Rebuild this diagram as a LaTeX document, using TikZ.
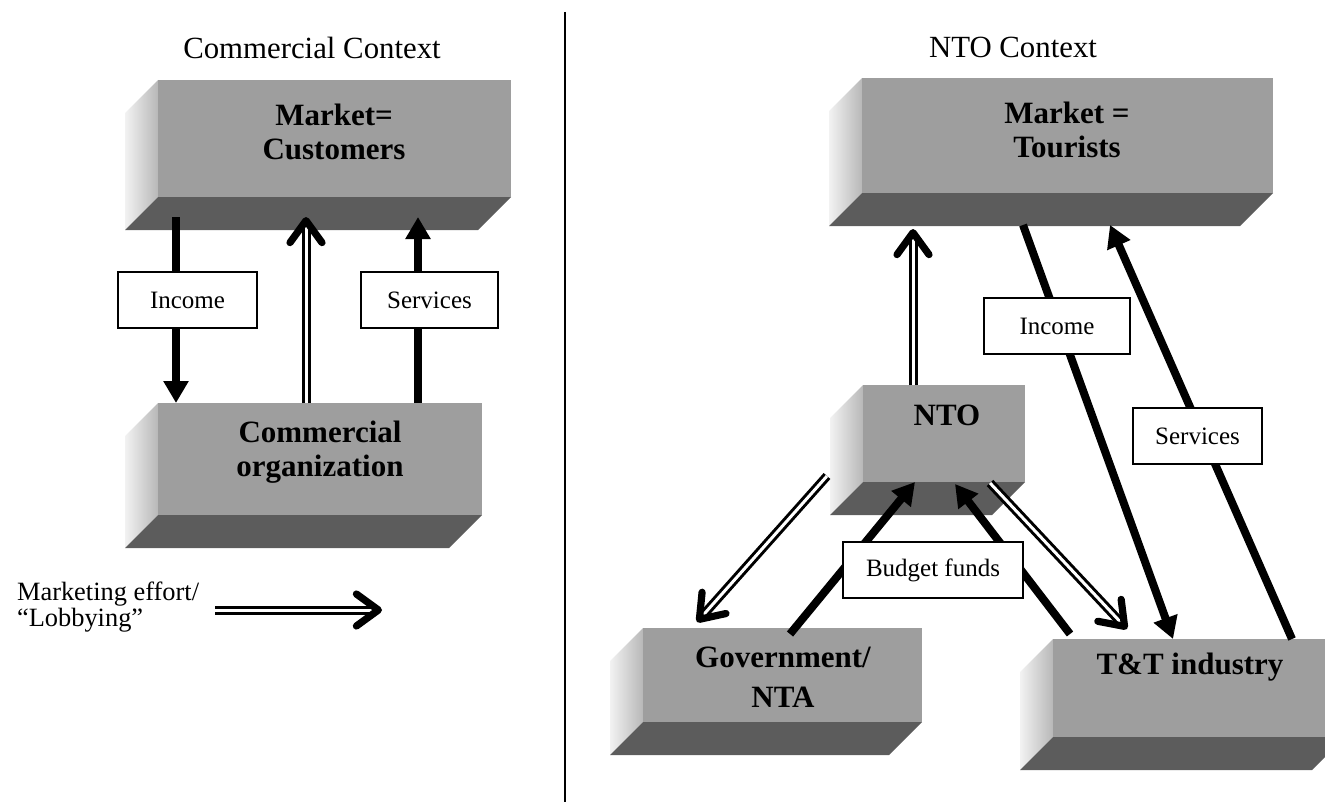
\documentclass[tikz,border=0pt]{standalone}
\usepackage{fontspec}
\setmainfont{Liberation Serif}
\usetikzlibrary{arrows.meta}

\colorlet{slabfront}{black!38}
\colorlet{slabbase}{black!64}

% 3D slab: name, x1, y1, x2, y2 (front face corners)
\newcommand{\slab}[5]{%
  \shade[left color=black!5, right color=black!28]
    (#2,#3) -- (#2,#5) -- (#2-33,#5+33) -- (#2-33,#3+33) -- cycle;
  \fill[slabbase] (#2,#5) -- (#4,#5) -- (#4-33,#5+33) -- (#2-33,#5+33) -- cycle;
  \node[fill=slabfront, inner sep=0pt, outer sep=0pt,
    minimum width={(#4-#2)*0.5pt}, minimum height={(#5-#3)*0.5pt}]
    (#1) at ({(#2+#4)/2},{(#3+#5)/2}) {};
}

\tikzset{
  title/.style={anchor=base, font=\fontsize{15.4}{18}\selectfont},
  slabtext/.style={align=center, font=\fontsize{15.5}{17}\selectfont\bfseries},
  tag/.style={draw, line width=1.2pt, fill=white, minimum height=28pt,
    inner sep=0pt, font=\fontsize{12.5}{14}\selectfont},
  fat/.style={line width=4pt, -{Triangle[length=11pt, width=12pt]}},
  push/.style={double, double distance=1.5pt, line width=1.5pt,
    -{Straight Barb[length=11pt, width=16pt, line width=3.6pt, round]}}
}

\begin{document}
\begin{tikzpicture}[x=0.5pt, y=-0.5pt]
  \useasboundingbox (0,0) rectangle (1325,802);
  \clip (0,0) rectangle (1325,802);

  % divider
  \coordinate (divT) at (565,12);
  \coordinate (divB) at (565,802);
  \draw[line width=0.8pt] (divT) -- (divB);

  % commercial context
  \node[title] (ttlC) at (312,59) {Commercial Context};
  \slab{mktC}{158}{80}{511}{197}
  \slab{org}{158}{403}{482}{515}
  \node[slabtext] (mktCt) at (334,132) {Market=\\Customers};
  \node[slabtext] (orgt) at (320,452) {Commercial\\organization};

  \coordinate (a1s) at (176,217);
  \coordinate (a2e) at (306,217);
  \coordinate (a3e) at (418,217);
  \draw[fat] (a1s) -- (a1s |- org.north);
  \draw[push] (a2e |- org.north) -- (a2e);
  \draw[fat] (a3e |- org.north) -- (a3e);

  \node[tag, minimum width=69.5pt] (incL) at (187.5,300) {Income};
  \node[tag, minimum width=68.5pt] (srvL) at (429.5,300) {Services};

  \node[anchor=west, align=left, font=\fontsize{13.2}{13}\selectfont]
    (lgd) at (10,607) {Marketing effort/\\``Lobbying''};
  \coordinate (lgA) at (215,610);
  \coordinate (lgB) at (382,610);
  \draw[push] (lgA) -- (lgB);

  % NTO context
  \node[title] (ttlN) at (1013,58) {NTO Context};
  \slab{mktN}{862}{78}{1273}{193}
  \slab{nto}{863}{385}{1025}{482}
  \slab{gov}{643}{628}{922}{722}
  \slab{tti}{1053}{639}{1345}{737}
  \node[slabtext] (mktNt) at (1067,130) {Market =\\Tourists};
  \node[slabtext] (ntot) at (947,415) {NTO};
  \node[slabtext, font=\fontsize{15.5}{20}\selectfont\bfseries] (govt) at (783,677) {Government/\\NTA};
  \node[slabtext] (ttit) at (1190,667) {T\&T industry};

  \coordinate (b1e) at (913,229);
  \coordinate (b2s) at (1023,225);
  \coordinate (b2e) at (1173,639);
  \coordinate (b3s) at (1292,639);
  \coordinate (b3e) at (1110,225);
  \coordinate (b4s) at (827,476);
  \coordinate (b4e) at (697,622);
  \coordinate (b5s) at (990,483);
  \coordinate (b5e) at (1127,629);
  \coordinate (b6s) at (790,634);
  \coordinate (b6e) at (915,482);
  \coordinate (b7s) at (1070,634);
  \coordinate (b7e) at (955,484);

  \draw[push] (b1e |- nto.north) -- (b1e);
  \draw[fat] (b2s) -- (b2e);
  \draw[fat] (b3s) -- (b3e);
  \draw[push] (b4s) -- (b4e);
  \draw[push] (b5s) -- (b5e);
  \draw[fat] (b6s) -- (b6e);
  \draw[fat] (b7s) -- (b7e);

  \node[tag, minimum width=73pt] (incR) at (1057,326) {Income};
  \node[tag, minimum width=64.5pt] (srvR) at (1197.5,436) {Services};
  \node[tag, minimum width=90pt] (bud) at (933,570) {Budget funds};
\end{tikzpicture}
\end{document}
